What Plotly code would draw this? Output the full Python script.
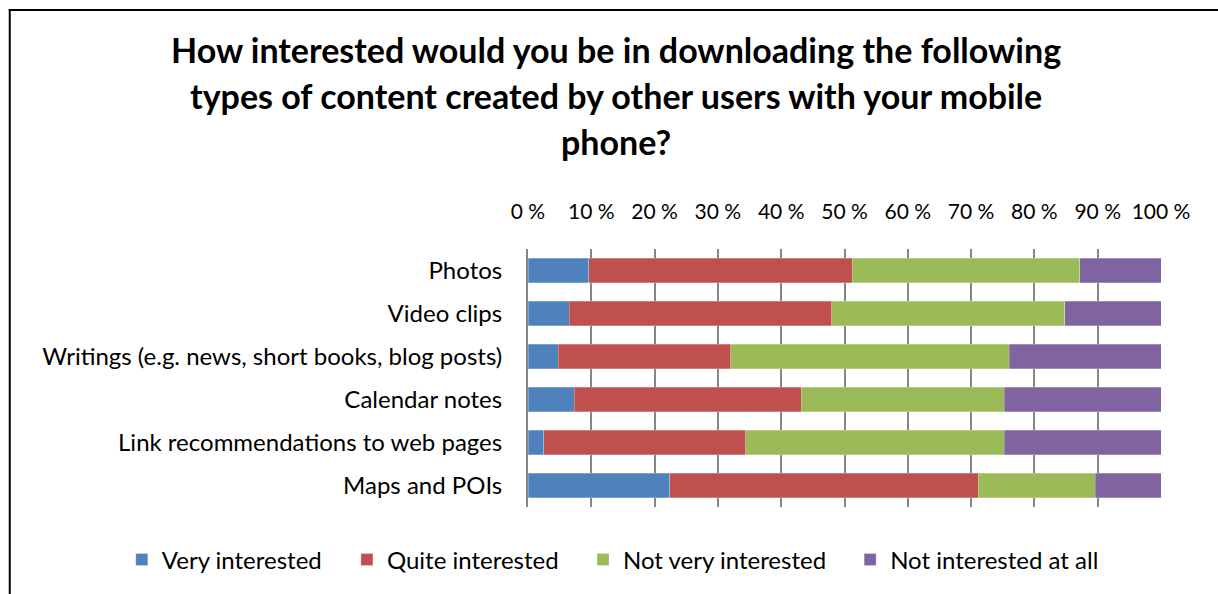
import plotly.graph_objects as go

categories = [
    "Photos",
    "Video clips",
    "Writings (e.g. news, short books, blog posts)",
    "Calendar notes",
    "Link recommendations to web pages",
    "Maps and POIs",
]

very_interested = [9.6, 6.5, 4.8, 7.3, 2.5, 22.4]
quite_interested = [41.6, 41.5, 27.2, 35.9, 31.9, 48.7]
not_very_interested = [36.0, 36.8, 44.0, 32.0, 40.8, 18.5]
not_interested_at_all = [12.8, 15.2, 24.0, 24.8, 24.8, 10.4]

series_names = ["Very interested", "Quite interested", "Not very interested", "Not interested at all"]
series_values = [very_interested, quite_interested, not_very_interested, not_interested_at_all]
series_colors = ["#4F81BD", "#C0504D", "#9BBB59", "#8064A2"]

tick_values = [0, 10, 20, 30, 40, 50, 60, 70, 80, 90, 100]
tick_labels = ["0 %", "10 %", "20 %", "30 %", "40 %", "50 %", "60 %", "70 %", "80 %", "90 %", "100 %"]

title_lines = [
    "How interested would you be in downloading the following",
    "types of content created by other users with your mobile",
    "phone?",
]

FONT = "Lato, 'Open Sans', sans-serif"

L, R, T, B = 528, 1160.7, 249, 507
PW, PH = R - L, B - T


def px_x(px):
    return (px - L) / PW


def px_y(py):
    return (B - py) / PH


# left edge (px) of each legend entry along the bottom row
legend_left_px = [122, 347, 583, 850]
legend_ids = ["legend", "legend2", "legend3", "legend4"]

fig = go.Figure()
for name, vals, color, lid in zip(series_names, series_values, series_colors, legend_ids):
    fig.add_trace(go.Bar(
        y=categories, x=vals, name=name, orientation="h", legend=lid,
        marker=dict(color=color, line=dict(color="rgba(255,255,255,0.5)", width=0.5)),
    ))

legend_layout = {}
for lid, left in zip(legend_ids, legend_left_px):
    legend_layout[lid] = dict(
        orientation="h", x=px_x(left), xanchor="left", y=px_y(560), yanchor="middle",
        font=dict(size=24, family=FONT, color="black"), bgcolor="rgba(0,0,0,0)",
    )

fig.update_layout(
    width=1218, height=594,
    margin=dict(l=L, r=1218 - R, t=T, b=594 - B, autoexpand=False),
    barmode="stack", bargap=0.42,
    paper_bgcolor="white", plot_bgcolor="white",
    font=dict(family=FONT, size=23, color="black"),
    showlegend=True,
    xaxis=dict(
        side="top", range=[0, 100], tickvals=tick_values, ticktext=tick_labels,
        showgrid=True, gridcolor="#868686", gridwidth=2, zeroline=False,
        ticks="", ticklabelstandoff=25, tickfont=dict(size=21),
        fixedrange=True, automargin=False,
    ),
    yaxis=dict(
        autorange="reversed", showline=True, linecolor="#868686", linewidth=2,
        ticks="", ticklabelstandoff=19, tickfont=dict(size=24),
        showgrid=False, automargin=False,
    ),
    **legend_layout,
)

# title, one annotation per line for Excel-like line spacing
for i, line in enumerate(title_lines):
    fig.add_annotation(
        text="<b>" + line + "</b>", xref="paper", yref="paper",
        x=px_x(616), y=px_y(49 + 46 * i),
        xanchor="center", yanchor="middle", showarrow=False,
        font=dict(size=34, family=FONT, color="black"),
    )

# chart frame (left and top edges)
fig.add_shape(type="line", xref="paper", yref="paper",
              x0=px_x(10), x1=px_x(10), y0=px_y(9), y1=px_y(600),
              line=dict(color="black", width=2))
fig.add_shape(type="line", xref="paper", yref="paper",
              x0=px_x(9), x1=px_x(1230), y0=px_y(10), y1=px_y(10),
              line=dict(color="black", width=2))

fig.write_html("out.html")
